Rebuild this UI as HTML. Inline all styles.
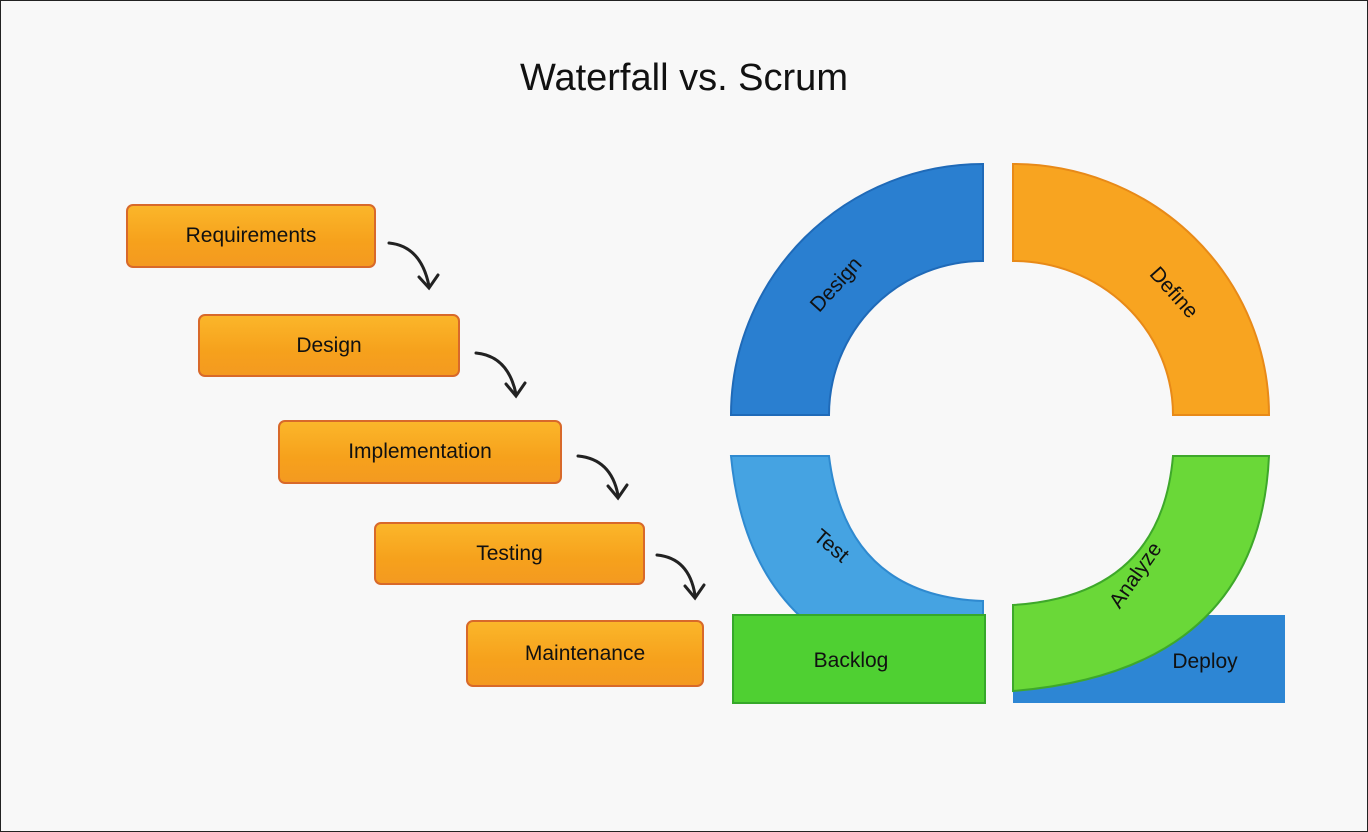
<!DOCTYPE html>
<html><head><style>
body{margin:0;background:#f8f8f8;}
.wrap{position:relative;width:1366px;height:830px;border:1px solid #222;background:#f8f8f8;overflow:hidden;font-family:"Liberation Sans",sans-serif;}
.title{position:absolute;left:0;width:1366px;top:56px;text-align:center;font-size:38px;color:#111;}
.box{position:absolute;background:linear-gradient(180deg,#fbb62a,#f6a11c 60%,#f49a20);border:2px solid #d8692a;border-radius:7px;display:flex;align-items:center;justify-content:center;font-size:21px;color:#111;box-sizing:border-box;}
</style></head><body><div class="wrap">
<div class="title">Waterfall vs. Scrum</div>
<div class="box" style="left:125px;top:203px;width:250px;height:64px">Requirements</div>
<div class="box" style="left:197px;top:313px;width:262px;height:63px">Design</div>
<div class="box" style="left:277px;top:419px;width:284px;height:64px">Implementation</div>
<div class="box" style="left:373px;top:521px;width:271px;height:63px">Testing</div>
<div class="box" style="left:465px;top:619px;width:238px;height:67px">Maintenance</div>
<svg width="1366" height="830" style="position:absolute;left:0;top:0">
<g fill="none" stroke="#222" stroke-width="3" stroke-linecap="round">
<path d="M388,242 Q420,245 428,285"/><path d="M418,276 L428,287 L437,274"/>
<path d="M475,352 Q507,355 515,393"/><path d="M505,383 L515,395 L524,382"/>
<path d="M577,455 Q610,458 617,494"/><path d="M607,485 L617,497 L626,484"/>
<path d="M656,554 Q688,557 694,594"/><path d="M684,585 L694,597 L703,584"/>
</g>
<path d="M730,414 A252,251 0 0 1 982,163 L982,260 A154,154 0 0 0 828,414 Z" fill="#2a7fd0" stroke="#1f6ab8" stroke-width="2"/>
<path d="M1012,163 A256,251 0 0 1 1268,414 L1172,414 A160,154 0 0 0 1012,260 Z" fill="#f8a420" stroke="#e88a18" stroke-width="2"/>
<path d="M730,455 L828,455 Q845,595 982,600 L982,616 L800,616 Q740,560 730,455 Z" fill="#45a3e2" stroke="#2f8ad0" stroke-width="2"/>
<rect x="1012" y="614" width="272" height="88" fill="#2d86d4"/>
<rect x="732" y="614" width="252" height="88" fill="#4fd032" stroke="#36a82a" stroke-width="2"/>
<path d="M1172,455 L1268,455 Q1258,670 1012,690 L1012,604 Q1160,595 1172,455 Z" fill="#6ad838" stroke="#3ea82a" stroke-width="2"/>
<g font-size="21" fill="#111" font-family="Liberation Sans,sans-serif" text-anchor="middle">
<text x="840" y="288" transform="rotate(-48 840 288)">Design</text>
<text x="1168" y="296" transform="rotate(48 1168 296)">Define</text>
<text x="826" y="550" transform="rotate(40 826 550)">Test</text>
<text x="1140" y="578" transform="rotate(-55 1140 578)">Analyze</text>
<text x="850" y="666">Backlog</text>
<text x="1204" y="667">Deploy</text>
</g>
</svg>
</div></body></html>
